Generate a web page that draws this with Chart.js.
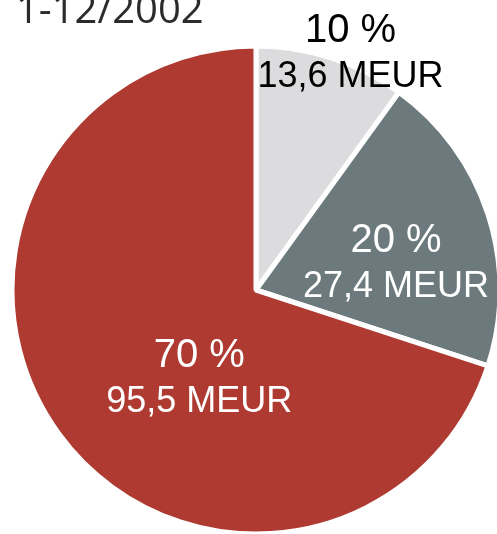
<!DOCTYPE html>
<html>
<head>
<meta charset="utf-8">
<title>1-12/2002</title>
<script src="https://cdn.jsdelivr.net/npm/chart.js"></script>
<style>
  html, body { margin: 0; padding: 0; background: #fff; }
  #wrap { width: 497px; height: 534px; }
</style>
</head>
<body>
<div id="wrap"><canvas id="pie" width="497" height="534"></canvas></div>
<script>
// data
const periodTitle = '1-12/2002';
const categories = ['A', 'B', 'C'];
const valuesMeur = [13.6, 27.4, 95.5];
const sliceColors = ['#dcdcde', '#6c7a7e', '#ae3a32'];
const labelColors = ['#000000', '#ffffff', '#ffffff'];
// label placement relative to each slice centre (px)
const labelOffsets = [[57, -120], [24, 12], [42, 17]];

function formatMeur(v) {
    return v.toFixed(1).replace('.', ',') + ' MEUR';
}

const sliceLabels = {
    id: 'sliceLabels',
    afterDatasetsDraw(chart) {
        const ctx = chart.ctx;
        const meta = chart.getDatasetMeta(0);
        const total = valuesMeur.reduce((a, b) => a + b, 0);
        ctx.save();
        ctx.textAlign = 'center';
        ctx.textBaseline = 'alphabetic';
        meta.data.forEach((arc, i) => {
            const p = arc.tooltipPosition();
            const x = p.x + labelOffsets[i][0];
            const y = p.y + labelOffsets[i][1];
            ctx.fillStyle = labelColors[i];
            ctx.font = '40px "Liberation Sans", Arial, sans-serif';
            ctx.fillText(Math.round(valuesMeur[i] / total * 100) + ' %', x, y - 12);
            ctx.font = '36px "Liberation Sans", Arial, sans-serif';
            ctx.fillText(formatMeur(valuesMeur[i]), x, y + 33);
        });
        // period title, partly cut at the top like the original
        ctx.textAlign = 'left';
        ctx.fillStyle = '#2b2b2b';
        ctx.font = '40px "Open Sans", sans-serif';
        ctx.fillText(periodTitle, 16, 23);
        ctx.restore();
    }
};

new Chart(document.getElementById('pie'), {
    type: 'pie',
    data: {
        labels: categories,
        datasets: [{
            data: valuesMeur,
            backgroundColor: sliceColors,
            borderColor: '#ffffff',
            borderWidth: 5
        }]
    },
    options: {
        responsive: false,
        animation: false,
        devicePixelRatio: 1,
        radius: 244,
        layout: { padding: { left: 15, top: 46, right: 0, bottom: 0 } },
        plugins: {
            legend: { display: false },
            tooltip: { enabled: false },
            title: { display: false }
        }
    },
    plugins: [sliceLabels]
});
</script>
</body>
</html>
